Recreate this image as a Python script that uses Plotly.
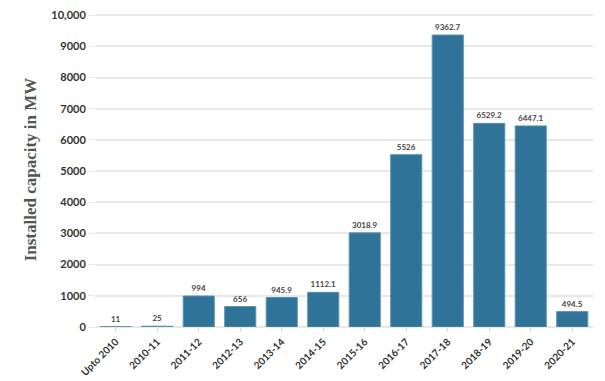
import plotly.graph_objects as go

categories = ["Upto 2010", "2010-11", "2011-12", "2012-13", "2013-14", "2014-15",
              "2015-16", "2016-17", "2017-18", "2018-19", "2019-20", "2020-21"]
capacity_mw = [11, 25, 994, 656, 945.9, 1112.1, 3018.9, 5526, 9362.7, 6529.2, 6447.1, 494.5]
value_labels = ["11", "25", "994", "656", "945.9", "1112.1", "3018.9", "5526",
                "9362.7", "6529.2", "6447.1", "494.5"]
y_tick_values = [0, 1000, 2000, 3000, 4000, 5000, 6000, 7000, 8000, 9000, 10000]
y_tick_labels = ["0", "1000", "2000", "3000", "4000", "5000", "6000", "7000", "8000", "9000", "10,000"]

fig = go.Figure(go.Bar(
    x=categories, y=capacity_mw,
    text=value_labels, textposition="outside",
    textfont=dict(family="Lato, sans-serif", size=8, color="#444", weight="bold"),
    marker=dict(color="#2f7399", line=dict(color="#5b93b5", width=1)),
    cliponaxis=False,
))

fig.update_layout(
    width=597, height=373,
    margin=dict(l=87, r=12, t=4, b=54),
    paper_bgcolor="white", plot_bgcolor="white",
    bargap=0.25,
    showlegend=False,
    font=dict(family="Lato, sans-serif", color="#333"),
    xaxis=dict(
        type="category", automargin=False,
        tickangle=-45, tickfont=dict(size=10, family="Lato, sans-serif", weight="bold", color="#333"),
        ticks="outside", ticklen=4, tickcolor="#ddd", showline=False, showgrid=False,
    ),
    yaxis=dict(
        automargin=False, ticklabeloverflow="allow",
        range=[0, 10100], tickvals=y_tick_values, ticktext=y_tick_labels,
        tickfont=dict(size=11, family="Lato, sans-serif", weight="bold", color="#333"),
        gridcolor="#e8e8e8", gridwidth=1.5, zeroline=True, zerolinecolor="#e8e8e8", zerolinewidth=1.5,
        ticks="outside", ticklen=6, tickcolor="#e8e8e8",
        title=dict(text="Installed capacity in MW",
                   font=dict(family="Liberation Serif, serif", size=17, color="#555", weight="bold"),
                   standoff=10),
    ),
)

fig.write_html("out.html")
